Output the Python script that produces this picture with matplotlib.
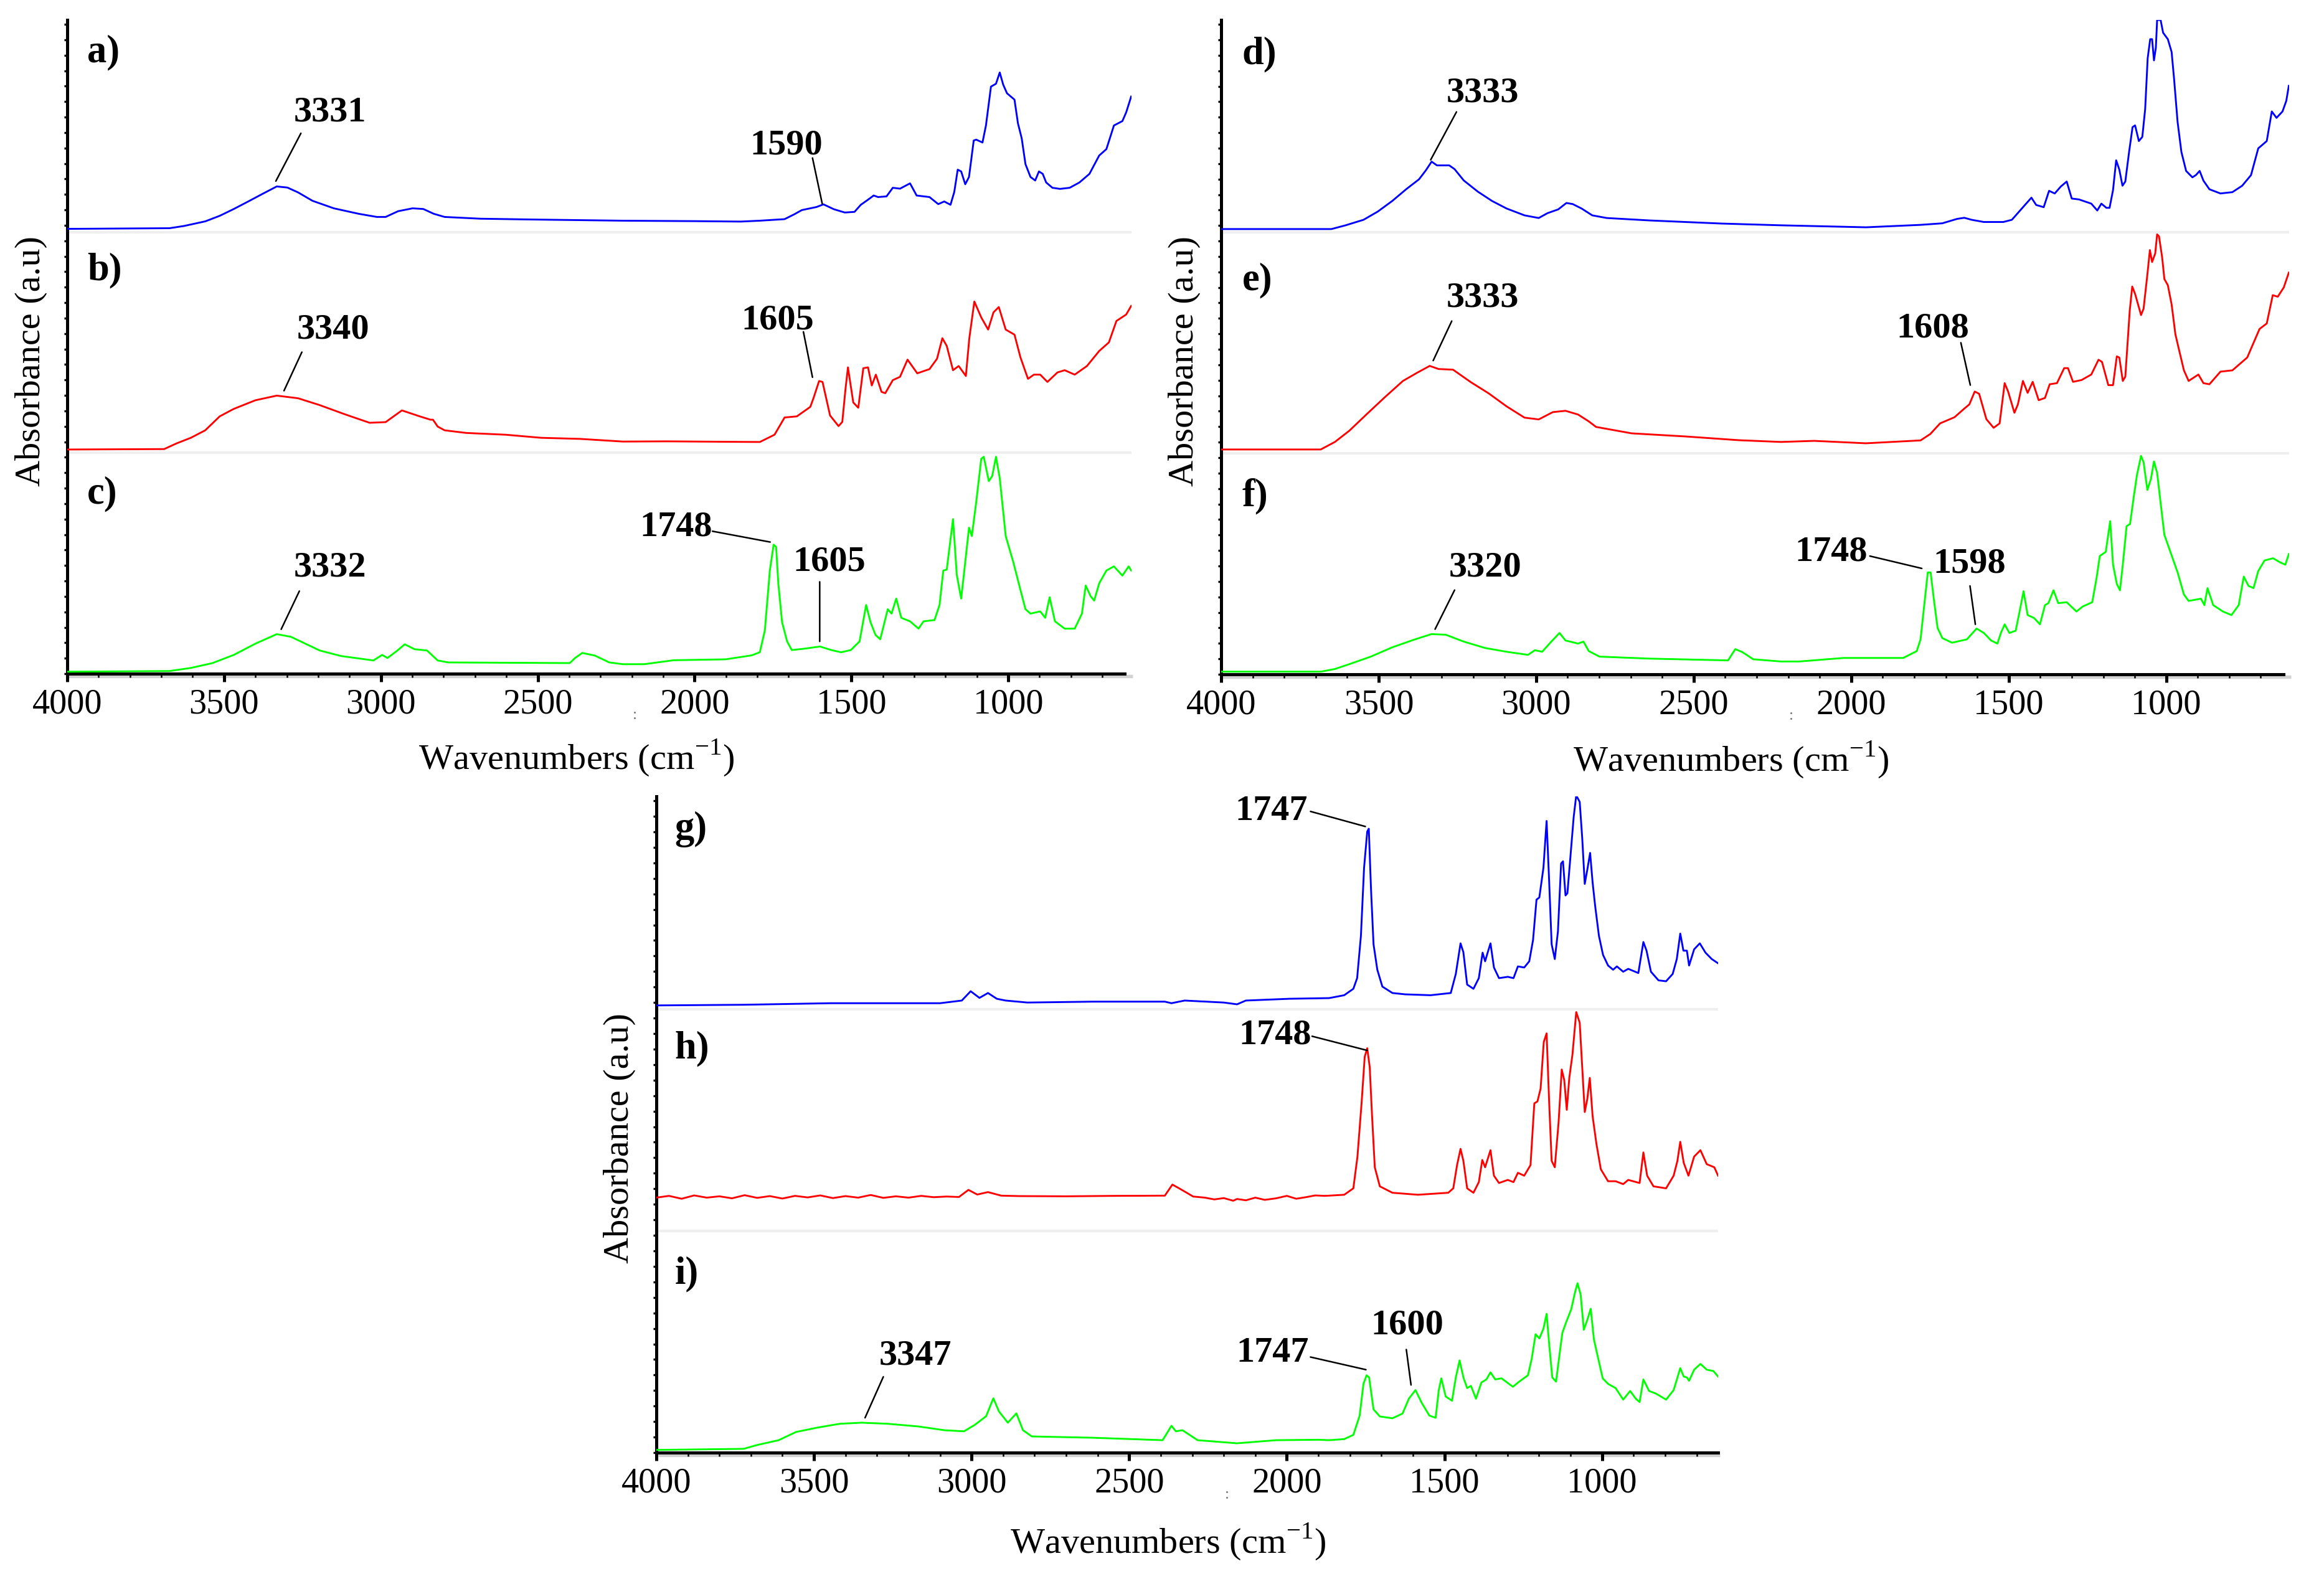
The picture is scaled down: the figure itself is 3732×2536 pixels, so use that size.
import matplotlib
matplotlib.use("Agg")
import matplotlib.pyplot as plt
from matplotlib.ticker import MultipleLocator, FixedLocator
from matplotlib.transforms import offset_copy

plt.rcParams['font.family'] = ['Liberation Serif', 'DejaVu Serif']
plt.rcParams['mathtext.fontset'] = 'custom'
plt.rcParams['mathtext.rm'] = 'Liberation Serif'

# ---------------- data (wavenumber, absorbance a.u.) ----------------
A_WN = [4000, 3674, 3628, 3560, 3514, 3469, 3423, 3378, 3332, 3298, 3264, 3218, 3150, 3070, 3013, 2985, 2945, 2899, 2865,
        2831, 2797, 2683, 2500, 2229, 2000, 1853,
        1792, 1713, 1682, 1658, 1611, 1589, 1556, 1521, 1490, 1470, 1447, 1429, 1415, 1388, 1368, 1345, 1313, 1292, 1251, 1223,
        1204, 1184, 1172, 1161, 1150, 1137, 1125, 1110, 1102, 1082, 1071, 1055, 1039, 1027, 1016, 1004, 980, 969, 957, 945,
        929, 914, 902, 890, 879, 859, 835, 804, 773, 741, 710, 687, 663, 636, 624, 608]
A_ABS = [0.014, 0.017, 0.027, 0.048, 0.073, 0.104, 0.138, 0.172, 0.206, 0.201, 0.179, 0.141, 0.107, 0.082, 0.068, 0.068, 0.094, 0.107, 0.104,
         0.082, 0.068, 0.060, 0.056, 0.051, 0.049, 0.047,
         0.051, 0.058, 0.080, 0.099, 0.113, 0.125, 0.103, 0.088, 0.091, 0.123, 0.146, 0.165, 0.158, 0.161, 0.200, 0.196, 0.220, 0.165, 0.158, 0.126,
         0.138, 0.123, 0.181, 0.282, 0.274, 0.216, 0.249, 0.414, 0.418, 0.405, 0.482, 0.658, 0.671, 0.722, 0.667, 0.628, 0.599, 0.492, 0.424, 0.307,
         0.249, 0.233, 0.274, 0.263, 0.224, 0.200, 0.195, 0.200, 0.224, 0.263, 0.346, 0.375, 0.482, 0.502, 0.541, 0.613]

B_WN = [4000, 3691, 3651, 3606, 3560, 3514, 3469, 3400, 3332, 3264, 3195, 3116, 3036, 2985, 2933, 2876, 2842, 2834, 2819,
        2797, 2728, 2603, 2489, 2364, 2229, 2090, 1900,
        1792, 1745, 1713, 1674, 1631, 1621, 1603, 1592, 1568, 1541, 1529, 1519, 1511, 1494, 1478, 1462, 1447, 1435, 1422, 1404,
        1392, 1368, 1345, 1321, 1290, 1251, 1227, 1210, 1196, 1176, 1158, 1135, 1124, 1108, 1086, 1064, 1047, 1030, 1008, 980,
        961, 937, 918, 898, 875, 843, 820, 788, 749, 710, 679, 655, 624, 608]
B_ABS = [0.015, 0.017, 0.043, 0.068, 0.102, 0.165, 0.199, 0.238, 0.259, 0.247, 0.216, 0.175, 0.136, 0.139, 0.192, 0.165, 0.150, 0.150, 0.119,
         0.102, 0.090, 0.082, 0.068, 0.063, 0.051, 0.052, 0.050,
         0.049, 0.082, 0.160, 0.165, 0.208, 0.247, 0.325, 0.321, 0.169, 0.121, 0.140, 0.286, 0.387, 0.228, 0.204, 0.383, 0.387, 0.305, 0.354, 0.276,
         0.270, 0.329, 0.344, 0.422, 0.360, 0.379, 0.426, 0.519, 0.484, 0.374, 0.393, 0.348, 0.519, 0.685, 0.613, 0.558, 0.636, 0.660, 0.558, 0.535,
         0.432, 0.335, 0.354, 0.354, 0.321, 0.364, 0.374, 0.354, 0.393, 0.461, 0.500, 0.597, 0.626, 0.665]

C_WN = [4000, 3674, 3606, 3537, 3469, 3400, 3332, 3287, 3241, 3195, 3127, 3024, 2996, 2979, 2950, 2924, 2893, 2853, 2819,
        2785, 2398, 2381, 2358, 2318, 2272, 2229, 2161, 2066, 1901, 1818,
        1792, 1776, 1760, 1748, 1740, 1733, 1721, 1705, 1690, 1651, 1600, 1564, 1533, 1502, 1474, 1453, 1439, 1423, 1408, 1384,
        1372, 1357, 1341, 1313, 1286, 1270, 1235, 1219, 1207, 1196, 1176, 1164, 1150, 1137, 1125, 1116, 1102, 1086, 1078, 1062,
        1051, 1039, 1027, 1008, 984, 961, 945, 929, 898, 882, 868, 851, 820, 788, 765, 753, 737, 726, 710, 687,
        663, 636, 616, 608]
C_ABS = [0.009, 0.012, 0.026, 0.048, 0.085, 0.136, 0.179, 0.167, 0.136, 0.105, 0.080, 0.060, 0.085, 0.071, 0.102, 0.133, 0.111, 0.105, 0.060,
         0.051, 0.048, 0.071, 0.094, 0.082, 0.051, 0.043, 0.043, 0.061, 0.065, 0.083,
         0.097, 0.195, 0.467, 0.584, 0.574, 0.409, 0.233, 0.146, 0.107, 0.113, 0.123, 0.107, 0.097, 0.107, 0.146, 0.311, 0.233, 0.175, 0.156, 0.292,
         0.272, 0.340, 0.253, 0.237, 0.204, 0.237, 0.243, 0.311, 0.467, 0.471, 0.700, 0.447, 0.340, 0.506, 0.661, 0.623, 0.778, 0.973, 0.982, 0.872,
         0.895, 0.982, 0.885, 0.623, 0.506, 0.379, 0.292, 0.272, 0.282, 0.253, 0.346, 0.237, 0.204, 0.204, 0.272, 0.399, 0.350, 0.331, 0.409, 0.467,
         0.486, 0.444, 0.486, 0.467]

D_WN = [4000, 3650, 3605, 3548, 3503, 3457, 3412, 3372, 3350, 3332, 3315, 3276, 3259, 3230, 3185, 3140, 3094, 3037, 2992, 2964,
        2930, 2904, 2884, 2856, 2822, 2776, 2640, 2413, 2223, 1953,
        1780, 1711, 1664, 1641, 1618, 1579, 1517, 1490, 1451, 1428, 1413, 1389, 1372, 1354, 1335, 1316, 1300, 1277, 1238, 1219,
        1206, 1190, 1180, 1169, 1159, 1149, 1139, 1130, 1118, 1107, 1099, 1087, 1076, 1067, 1059, 1051, 1045, 1039, 1033, 1029,
        1018, 1010, 995, 983, 975, 964, 952, 937, 917, 906, 894, 882, 863, 828, 790, 759, 731, 708, 681, 665,
        650, 631, 619, 611]
D_ABS = [0.014, 0.014, 0.031, 0.056, 0.093, 0.141, 0.195, 0.239, 0.280, 0.319, 0.302, 0.302, 0.285, 0.234, 0.183, 0.141, 0.107, 0.076, 0.064, 0.086,
         0.103, 0.132, 0.127, 0.107, 0.076, 0.064, 0.053, 0.039, 0.031, 0.022,
         0.033, 0.040, 0.060, 0.065, 0.056, 0.046, 0.046, 0.056, 0.119, 0.156, 0.123, 0.113, 0.187, 0.175, 0.206, 0.229, 0.152, 0.148, 0.129, 0.098,
         0.129, 0.110, 0.110, 0.190, 0.325, 0.283, 0.210, 0.229, 0.363, 0.475, 0.483, 0.412, 0.431, 0.556, 0.787, 0.873, 0.873, 0.777, 0.835, 0.960,
         0.960, 0.902, 0.873, 0.815, 0.690, 0.498, 0.363, 0.277, 0.248, 0.258, 0.277, 0.233, 0.194, 0.175, 0.181, 0.210, 0.258, 0.379, 0.412, 0.546,
         0.517, 0.546, 0.594, 0.662]

E_WN = [4000, 3684, 3639, 3593, 3537, 3480, 3423, 3378, 3338, 3310, 3264, 3208, 3151, 3094, 3037, 2992, 2947, 2907, 2867, 2833,
        2810, 2697, 2527, 2357, 2223, 2118, 1953,
        1780, 1749, 1718, 1672, 1641, 1625, 1608, 1594, 1571, 1548, 1529, 1513, 1502, 1482, 1471, 1455, 1440, 1424, 1405, 1385,
        1370, 1347, 1324, 1312, 1296, 1269, 1238, 1215, 1204, 1184, 1169, 1157, 1149, 1138, 1130, 1116, 1108, 1099, 1080, 1072,
        1060, 1052, 1045, 1035, 1029, 1023, 1013, 1006, 995, 983, 971, 960, 944, 929, 898, 882, 863, 828, 790, 743,
        704, 681, 662, 646, 627, 611]
E_ABS = [0.017, 0.017, 0.051, 0.102, 0.178, 0.254, 0.327, 0.364, 0.395, 0.381, 0.378, 0.322, 0.271, 0.212, 0.161, 0.153, 0.186, 0.192, 0.175, 0.144,
         0.119, 0.090, 0.076, 0.059, 0.051, 0.056, 0.045,
         0.058, 0.087, 0.135, 0.163, 0.202, 0.221, 0.279, 0.269, 0.154, 0.115, 0.135, 0.317, 0.279, 0.183, 0.221, 0.327, 0.273, 0.323, 0.240, 0.250,
         0.312, 0.317, 0.385, 0.385, 0.323, 0.331, 0.356, 0.423, 0.413, 0.308, 0.308, 0.438, 0.433, 0.327, 0.346, 0.644, 0.754, 0.721, 0.625, 0.654,
         0.808, 0.919, 0.865, 0.904, 0.990, 0.981, 0.885, 0.788, 0.760, 0.673, 0.538, 0.471, 0.375, 0.327, 0.356, 0.317, 0.312, 0.369, 0.375, 0.433,
         0.562, 0.587, 0.715, 0.708, 0.750, 0.817]

F_WN = [4000, 3684, 3639, 3593, 3525, 3457, 3389, 3332, 3287, 3230, 3162, 3094, 3026, 3004, 2981, 2952, 2926, 2907, 2867, 2850,
        2833, 2799, 2640, 2391, 2368, 2345, 2311, 2223, 2165, 2024, 1835, 1792,
        1780, 1769, 1757, 1748, 1738, 1726, 1711, 1680, 1633, 1602, 1579, 1556, 1536, 1525, 1513, 1498, 1478, 1467, 1453, 1440,
        1420, 1401, 1385, 1374, 1358, 1343, 1316, 1285, 1265, 1235, 1221, 1211, 1192, 1178, 1169, 1157, 1147, 1138, 1126, 1115,
        1103, 1093, 1080, 1072, 1060, 1049, 1039, 1029, 1018, 1006, 987, 964, 944, 929, 890, 879, 869, 851, 820, 793,
        770, 754, 739, 723, 708, 688, 661, 638, 622, 611]
F_ABS = [0.012, 0.012, 0.024, 0.046, 0.080, 0.122, 0.156, 0.182, 0.179, 0.148, 0.119, 0.102, 0.088, 0.109, 0.102, 0.148, 0.187, 0.153, 0.139, 0.148,
         0.105, 0.080, 0.071, 0.063, 0.114, 0.100, 0.068, 0.058, 0.058, 0.074, 0.074, 0.105,
         0.158, 0.303, 0.461, 0.461, 0.342, 0.210, 0.164, 0.143, 0.158, 0.207, 0.187, 0.153, 0.139, 0.187, 0.226, 0.187, 0.197, 0.274, 0.376, 0.268,
         0.255, 0.226, 0.313, 0.322, 0.380, 0.322, 0.326, 0.284, 0.307, 0.326, 0.438, 0.535, 0.554, 0.693, 0.496, 0.409, 0.380, 0.496, 0.670, 0.680,
         0.805, 0.902, 0.988, 0.959, 0.834, 0.882, 0.963, 0.911, 0.776, 0.631, 0.554, 0.461, 0.361, 0.332, 0.342, 0.313, 0.390, 0.313, 0.284, 0.268,
         0.313, 0.442, 0.400, 0.390, 0.467, 0.515, 0.525, 0.506, 0.496, 0.544]

G_WN = [4000, 3723, 3446, 3100, 3031, 3003, 2975, 2948, 2920, 2892, 2823, 2615, 2387, 2366, 2324, 2200, 2158, 2130, 1992, 1866,
        1818, 1789, 1777, 1765, 1755, 1745, 1740, 1733, 1725, 1713, 1697, 1665, 1625, 1544, 1480, 1464, 1449, 1440, 1428, 1408,
        1391, 1379, 1371, 1363, 1354, 1343, 1327, 1299, 1281, 1267, 1247, 1231, 1219, 1208, 1199, 1186, 1176, 1168, 1160, 1150,
        1140, 1130, 1124, 1116, 1110, 1100, 1090, 1082, 1071, 1063, 1055, 1047, 1038, 1030, 1022, 1010, 997, 981, 965, 953,
        933, 917, 885, 869, 859, 845, 821, 797, 776, 763, 752, 742, 731, 724, 708, 690, 672, 652, 632]
G_ABS = [0.017, 0.020, 0.027, 0.027, 0.039, 0.081, 0.051, 0.073, 0.047, 0.039, 0.030, 0.034, 0.034, 0.027, 0.039, 0.030, 0.022, 0.039, 0.047, 0.050,
         0.063, 0.092, 0.140, 0.331, 0.638, 0.801, 0.814, 0.542, 0.293, 0.178, 0.102, 0.073, 0.067, 0.063, 0.073, 0.159, 0.297, 0.257, 0.111, 0.092,
         0.140, 0.255, 0.216, 0.255, 0.297, 0.188, 0.140, 0.146, 0.140, 0.193, 0.188, 0.216, 0.312, 0.494, 0.504, 0.638, 0.849, 0.580, 0.293, 0.226,
         0.351, 0.657, 0.667, 0.513, 0.523, 0.695, 0.868, 0.964, 0.935, 0.772, 0.565, 0.628, 0.705, 0.571, 0.466, 0.331, 0.245, 0.197, 0.178, 0.193,
         0.169, 0.182, 0.163, 0.303, 0.264, 0.169, 0.130, 0.126, 0.159, 0.226, 0.341, 0.264, 0.264, 0.197, 0.270, 0.297, 0.255, 0.226, 0.207]

H_WN = [4000, 3960, 3920, 3880, 3840, 3800, 3760, 3720, 3680, 3640, 3600, 3560, 3520, 3480, 3440, 3400, 3360, 3320, 3280, 3240,
        3200, 3160, 3120, 3080, 3040, 3010, 2982, 2948, 2906, 2850, 2700, 2550, 2387, 2363, 2338, 2297, 2260, 2230, 2200, 2170,
        2158, 2130, 2100, 2070, 2034, 2000, 1970, 1940, 1910, 1880,
        1866, 1818, 1789, 1776, 1763, 1753, 1745, 1737, 1730, 1721, 1705, 1665, 1584, 1488, 1472, 1460, 1449, 1440, 1428, 1408,
        1391, 1380, 1371, 1354, 1343, 1327, 1299, 1281, 1267, 1247, 1227, 1215, 1205, 1195, 1185, 1176, 1168, 1160, 1150, 1138,
        1128, 1120, 1112, 1104, 1094, 1082, 1071, 1063, 1055, 1047, 1039, 1030, 1018, 1004, 981, 957, 933, 917, 881, 869,
        857, 837, 797, 773, 761, 752, 741, 726, 708, 688, 668, 644, 632]
H_ABS = [0.150, 0.158, 0.145, 0.160, 0.150, 0.156, 0.147, 0.161, 0.149, 0.157, 0.146, 0.158, 0.151, 0.160, 0.148, 0.157, 0.150, 0.162, 0.149, 0.156,
         0.150, 0.158, 0.152, 0.155, 0.153, 0.185, 0.164, 0.175, 0.159, 0.157, 0.156, 0.158, 0.159, 0.209, 0.189, 0.155, 0.150, 0.142, 0.148, 0.136,
         0.144, 0.138, 0.150, 0.140, 0.147, 0.158, 0.145, 0.152, 0.160, 0.158,
         0.159, 0.163, 0.192, 0.335, 0.575, 0.785, 0.824, 0.738, 0.527, 0.287, 0.201, 0.172, 0.163, 0.172, 0.192, 0.297, 0.370, 0.316, 0.192, 0.172,
         0.220, 0.320, 0.287, 0.364, 0.249, 0.216, 0.230, 0.220, 0.262, 0.249, 0.297, 0.575, 0.584, 0.642, 0.852, 0.891, 0.584, 0.316, 0.287, 0.489,
         0.728, 0.680, 0.546, 0.690, 0.795, 0.987, 0.939, 0.738, 0.536, 0.594, 0.690, 0.517, 0.393, 0.278, 0.224, 0.224, 0.211, 0.230, 0.216, 0.354,
         0.249, 0.201, 0.192, 0.249, 0.316, 0.402, 0.307, 0.249, 0.335, 0.364, 0.301, 0.287, 0.249]

I_WN = [4000, 3723, 3681, 3612, 3557, 3488, 3418, 3349, 3266, 3169, 3086, 3024, 2989, 2954, 2931, 2913, 2885, 2858, 2837, 2809,
        2615, 2394, 2366, 2352, 2331, 2283, 2158, 2034, 1900,
        1866, 1818, 1789, 1769, 1757, 1747, 1739, 1725, 1705, 1665, 1633, 1613, 1592, 1572, 1548, 1528, 1518, 1510, 1496, 1476,
        1464, 1452, 1440, 1428, 1416, 1400, 1383, 1367, 1354, 1339, 1319, 1283, 1263, 1235, 1223, 1211, 1199, 1186, 1176, 1168,
        1158, 1146, 1134, 1126, 1114, 1098, 1086, 1078, 1068, 1058, 1047, 1036, 1026, 1014, 998, 981, 957, 933, 911, 893,
        881, 869, 851, 829, 797, 773, 752, 741, 731, 724, 708, 688, 668, 647, 632]
I_ABS = [0.012, 0.017, 0.034, 0.056, 0.093, 0.113, 0.130, 0.135, 0.130, 0.118, 0.101, 0.096, 0.126, 0.164, 0.245, 0.185, 0.135, 0.177, 0.101, 0.073,
         0.067, 0.056, 0.121, 0.096, 0.101, 0.056, 0.042, 0.056, 0.058,
         0.056, 0.061, 0.080, 0.167, 0.310, 0.349, 0.339, 0.195, 0.163, 0.155, 0.176, 0.243, 0.282, 0.224, 0.167, 0.157, 0.282, 0.335, 0.253, 0.234,
         0.339, 0.416, 0.339, 0.291, 0.301, 0.243, 0.316, 0.330, 0.362, 0.330, 0.335, 0.297, 0.320, 0.349, 0.425, 0.534, 0.515, 0.559, 0.626, 0.492,
         0.339, 0.320, 0.454, 0.540, 0.588, 0.646, 0.722, 0.764, 0.713, 0.554, 0.598, 0.649, 0.511, 0.435, 0.335, 0.310, 0.291, 0.239, 0.278, 0.243,
         0.228, 0.330, 0.278, 0.266, 0.239, 0.282, 0.381, 0.343, 0.339, 0.324, 0.374, 0.400, 0.374, 0.368, 0.343]

PANEL_LETTERS = [["a)", "b)", "c)"], ["d)", "e)", "f)"], ["g)", "h)", "i)"]]
X_TICKS = [4000, 3500, 3000, 2500, 2000, 1500, 1000]
X_LABEL = "Wavenumbers (cm$^{-1}$)"
Y_LABEL = "Absorbance (a.u)"

# peak labels: text, text position, leader line start, leader line end
PEAKS_1 = [("3331", 3162, 2.541, 3255, 2.447, 3335, 2.230),
           ("1590", 1707, 2.393, 1624, 2.335, 1593, 2.128),
           ("3340", 3153, 1.558, 3252, 1.456, 3309, 1.281),
           ("1605", 1735, 1.600, 1653, 1.548, 1624, 1.342),
           ("3332", 3162, 0.480, 3260, 0.374, 3318, 0.201),
           ("1748", 2059, 0.663, 1943, 0.645, 1759, 0.596),
           ("1605", 1570, 0.506, 1601, 0.416, 1601, 0.146)]
PEAKS_2 = [("3333", 3169, 2.629, 3253, 2.544, 3335, 2.327),
           ("3333", 3170, 1.703, 3268, 1.598, 3327, 1.419),
           ("1608", 1741, 1.564, 1652, 1.500, 1622, 1.308),
           ("3320", 3162, 0.483, 3259, 0.381, 3321, 0.204),
           ("1748", 2063, 0.553, 1941, 0.535, 1776, 0.479),
           ("1598", 1624, 0.501, 1623, 0.400, 1606, 0.226)]
PEAKS_3 = [("1747", 2050, 2.892, 1925, 2.892, 1751, 2.824),
           ("1748", 2038, 1.882, 1920, 1.878, 1745, 1.814),
           ("3347", 3178, 0.438, 3280, 0.342, 3338, 0.157),
           ("1747", 2045, 0.449, 1925, 0.431, 1749, 0.374),
           ("1600", 1619, 0.575, 1621, 0.465, 1606, 0.305)]

# ---------------- figure ----------------
W, H = 3732, 2536
fig = plt.figure(figsize=(W / 300, H / 300), dpi=300)
fig.patch.set_facecolor("white")

COLORS = ["#0000ff", "#ff0000", "#00ff00"]

panels = [
    dict(rect=[108 / W, 1 - 1082 / H, 1709 / W, 1050 / H], xend=607, spine_end=628,
         traces=[(A_WN, A_ABS), (B_WN, B_ABS), (C_WN, C_ABS)], peaks=PEAKS_1,
         letters=PANEL_LETTERS[0], lx=3936, lys=[2.813, 1.825, 0.813],
         xlab=(925, 1217), ylab=(50, 580)),
    dict(rect=[1961 / W, 1 - 1083 / H, 1715 / W, 1051 / H], xend=610, spine_end=627,
         traces=[(D_WN, D_ABS), (E_WN, E_ABS), (F_WN, F_ABS)], peaks=PEAKS_2,
         letters=PANEL_LETTERS[1], lx=3934, lys=[2.804, 1.782, 0.804],
         xlab=(2779, 1220), ylab=(1902, 580)),
    dict(rect=[1054 / W, 1 - 2333 / H, 1705 / W, 1054 / H], xend=632, spine_end=632,
         traces=[(G_WN, G_ABS), (H_WN, H_ABS), (I_WN, I_ABS)], peaks=PEAKS_3,
         letters=PANEL_LETTERS[2], lx=3941, lys=[2.811, 1.820, 0.806],
         xlab=(1875, 2476), ylab=(995, 1828)),
]

for p in panels:
    ax = fig.add_axes(p["rect"])
    ax.set_xlim(4000, p["xend"])
    ax.set_ylim(0, 2.96)
    for s in ["top", "right"]:
        ax.spines[s].set_visible(False)
    for s in ["left", "bottom"]:
        ax.spines[s].set_linewidth(1.2)
    ax.spines["bottom"].set_bounds(p["spine_end"], 4000)

    # light gray drop shadow under the bottom axis
    tr = offset_copy(ax.transData, fig=fig, x=0.6, y=-0.9, units="points")
    ax.plot([4000, p["xend"]], [0, 0], color="#d2d2d2", lw=1.3, transform=tr,
            clip_on=False, zorder=1, solid_capstyle="butt")

    # band separators
    for yb in (1, 2):
        ax.axhline(yb, color="#efefef", lw=1.0, zorder=1)

    for k, (wn, ab) in enumerate(p["traces"]):
        off = 2 - k
        ax.plot(wn, [v + off for v in ab], color=COLORS[k], lw=0.7, zorder=3,
                solid_joinstyle="round")

    ax.xaxis.set_major_locator(FixedLocator(X_TICKS))
    ax.xaxis.set_minor_locator(MultipleLocator(100))
    ax.set_xticklabels([str(t) for t in X_TICKS])
    ax.tick_params(axis="x", which="major", direction="out", length=3.2, width=1.2,
                   labelsize=13.5, pad=2.5)
    ax.tick_params(axis="x", which="minor", direction="out", length=1.5, width=0.6)
    ax.set_yticks([])
    ax.yaxis.set_minor_locator(MultipleLocator(0.07))
    ax.tick_params(axis="y", which="minor", direction="out", length=1.2, width=0.8,
                   left=True, labelleft=False)

    for letter, ly in zip(p["letters"], p["lys"]):
        ax.text(p["lx"], ly, letter, ha="left", va="center", fontsize=15,
                fontweight="bold")

    for (txt, tx, ty, x1, y1, x2, y2) in p["peaks"]:
        ax.text(tx, ty, txt, ha="center", va="center", fontsize=14, fontweight="bold")
        ax.annotate("", xy=(x2, y2), xytext=(x1, y1),
                    arrowprops=dict(arrowstyle="-", lw=0.6, color="black",
                                    shrinkA=0, shrinkB=0))

    # small stray mark below the axis near 2190
    ax.text(2190, -0.19, ":", ha="center", va="center", fontsize=6, color="#777777",
            clip_on=False)

    fig.text(p["xlab"][0] / W, 1 - p["xlab"][1] / H, X_LABEL, ha="center", va="center",
             fontsize=14)
    fig.text(p["ylab"][0] / W, 1 - p["ylab"][1] / H, Y_LABEL, ha="center", va="center",
             fontsize=14, rotation=90)

fig.savefig("out.png", dpi=300, facecolor="white")
